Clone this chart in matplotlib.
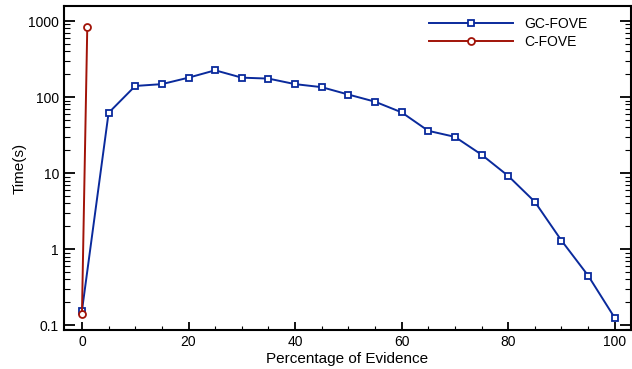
import matplotlib
matplotlib.use("Agg")
import matplotlib.pyplot as plt
from matplotlib.ticker import FixedLocator, FuncFormatter, MultipleLocator, LogLocator, NullFormatter

plt.rcParams["font.family"] = ["Liberation Sans", "DejaVu Sans"]

BLUE = "#0a2a9c"
RED = "#a11308"

# GC-FOVE: time vs percentage of evidence
gc_x = [0, 5, 10, 15, 20, 25, 30, 35, 40, 45, 50,
        55, 60, 65, 70, 75, 80, 85, 90, 95, 100]
gc_y = [0.155, 62, 140, 148, 180, 225, 180, 175, 148, 135, 108,
        87, 63, 36, 30, 17.5, 9.2, 4.2, 1.3, 0.45, 0.125]

# C-FOVE
c_x = [0, 1]
c_y = [0.14, 830]

fig, ax = plt.subplots(figsize=(6.32, 3.69), dpi=100)
fig.subplots_adjust(left=0.101, right=0.998, top=0.984, bottom=0.105)

ax.plot(gc_x, gc_y, color=BLUE, lw=1.4, marker="s", markersize=5,
        markerfacecolor="white", markeredgecolor=BLUE, markeredgewidth=1.3,
        label="GC-FOVE")
ax.plot(c_x, c_y, color=RED, lw=1.4, marker="o", markersize=5,
        markerfacecolor="white", markeredgecolor=RED, markeredgewidth=1.3,
        label="C-FOVE")

ax.set_yscale("log")
ax.set_ylim(0.086, 1580)
ax.set_xlim(-3.4, 103)

ax.yaxis.set_major_locator(FixedLocator([0.1, 1, 10, 100, 1000]))
ax.yaxis.set_major_formatter(FuncFormatter(lambda v, p: f"{v:g}"))
ax.yaxis.set_minor_locator(LogLocator(base=10, subs=range(2, 10)))
ax.yaxis.set_minor_formatter(NullFormatter())
ax.xaxis.set_major_locator(MultipleLocator(20))
ax.xaxis.set_minor_locator(MultipleLocator(5))

ax.tick_params(axis="both", which="both", direction="in", top=False, right=True,
               labelsize=10)
ax.tick_params(axis="y", which="major", length=8, width=1.3)
ax.tick_params(axis="y", which="minor", length=4, width=0.8)
ax.tick_params(axis="x", which="major", length=6, width=1.3)
ax.tick_params(axis="x", which="minor", length=3, width=0.8)
for s in ax.spines.values():
    s.set_linewidth(1.5)

ax.set_xlabel("Percentage of Evidence", fontsize=11, labelpad=2)
ax.set_ylabel("Time(s)", fontsize=11, labelpad=1)

ax.legend(loc="upper right", frameon=False, fontsize=10, handlelength=6,
          bbox_to_anchor=(0.945, 1.005), labelspacing=0.3)

fig.savefig("out.png", dpi=100)
